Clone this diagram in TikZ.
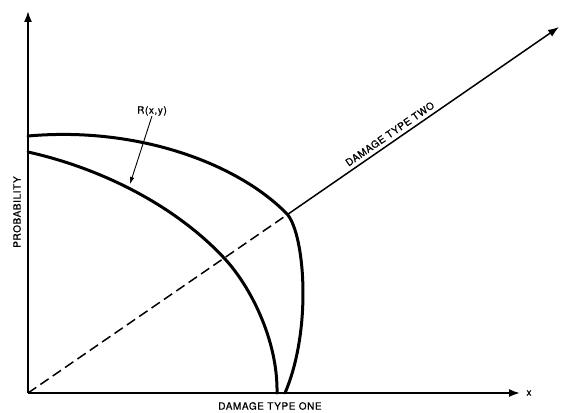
\documentclass[tikz,border=0pt]{standalone}
\usepackage{fontspec}
\setmainfont{TeX Gyre Heros}
\newfontfamily\labfont[LetterSpace=6,FakeBold=0.8]{TeX Gyre Heros}
\usetikzlibrary{arrows.meta}
\tikzset{
  axis/.style={line width=1.8pt,-{Latex[length=11pt,width=8pt]}},
  curve/.style={line width=3pt,line cap=round},
  diag/.style={line width=1.5pt},
  lbl/.style={font=\labfont\fontsize{10}{12}\selectfont,inner sep=1pt},
}
\begin{document}
\begin{tikzpicture}[x=1pt,y=-1pt]
\useasboundingbox (0,0) rectangle (561,412);
\coordinate (O) at (28,393);
\coordinate (Ytip) at (28,11);
\coordinate (Xtip) at (520,393);
\coordinate (Dtip) at (559,27);
\coordinate (I) at (287.5,214.5);
\coordinate (IB) at (225,259);
% axes
\draw[axis] (O) -- (Ytip);
\draw[axis] (O) -- (Xtip);
\draw[diag,dash pattern=on 10pt off 5pt] (O) -- (I);
\draw[diag,-{Latex[length=11pt,width=8pt]}] (I) -- (Dtip);
% curves
\draw[curve] (28,136) .. controls (140,126) and (240,165) .. (I)
  .. controls (305,236) and (312,330) .. (285,393);
\draw[curve] (28,152) .. controls (100,168) and (175,205) .. (IB)
  .. controls (250,286) and (278,340) .. (277,393);
% labels
\node[lbl] (xl) at (529,393) {x};
\node[lbl] (one) at (270,406) {DAMAGE TYPE ONE};
\node[lbl,rotate=90] (prob) at (17,212) {PROBABILITY};
\path (O) -- (Dtip) node[lbl,pos=0.69,sloped,above=3pt] (two) {DAMAGE TYPE TWO};
\node[lbl] (r) at (152,111) {R(x,y)};
\coordinate (rt) at (130,184);
\draw[line width=0.9pt,-{Latex[length=7pt,width=4.5pt]}] (r.south) ++(0,-1) -- (rt);
\end{tikzpicture}
\end{document}
